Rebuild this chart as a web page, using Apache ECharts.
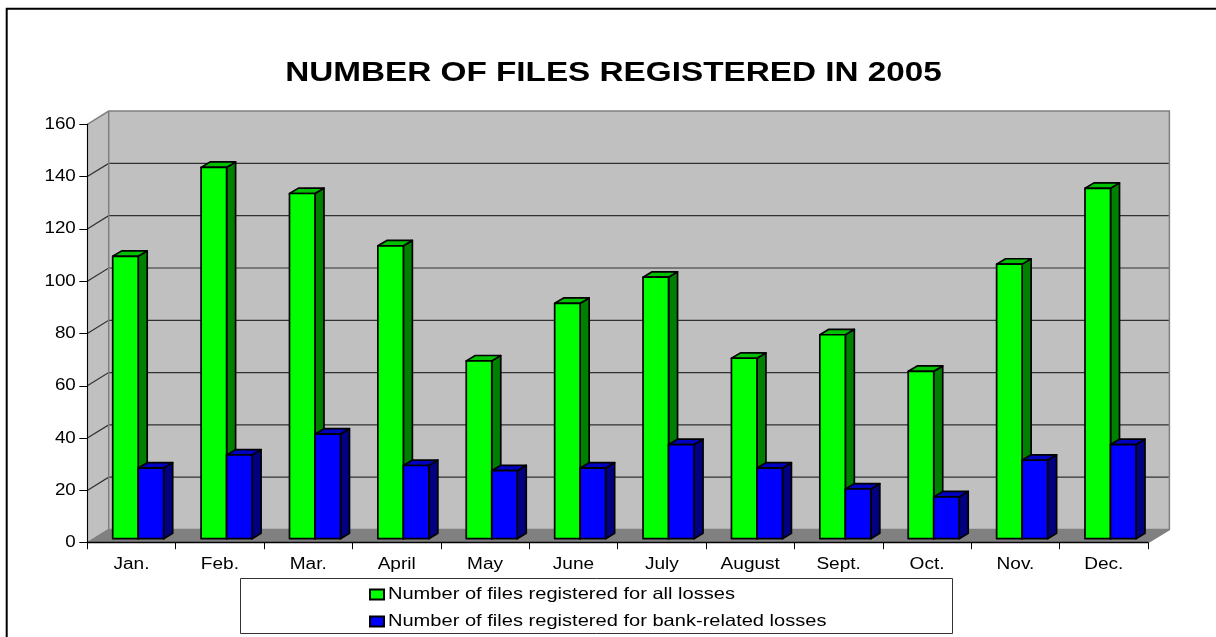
<!DOCTYPE html>
<html>
<head>
<meta charset="utf-8">
<style>html,body{margin:0;padding:0;background:#fff}#c{width:1216px;height:637px}</style>
<script src="https://cdn.jsdelivr.net/npm/echarts@6/dist/echarts.min.js"></script>
</head>
<body>
<div id="c"></div>
<script>
const categories = ['Jan.','Feb.','Mar.','April','May','June','July','August','Sept.','Oct.','Nov.','Dec.'];
const allLosses = [108,142,132,112,68,90,100,69,78,64,105,134];
const bankLosses = [27,32,40,28,26,27,36,27,19,16,30,36];
const yTicks = [20,40,60,80,100,120,140];
const titleText = 'NUMBER OF FILES REGISTERED IN 2005';
const allName = 'Number of files registered for all losses';
const bankName = 'Number of files registered for bank-related losses';

const FONT = '"Liberation Sans", Arial, sans-serif';
const WALL = [21.4, -13.2];     // depth of the chart box
const BASE = [6.6, -4];         // bars stand this far back on the floor
const BAR_DEPTH = [9, -5.4];
const BAR_W = 25.5 / 88.4;      // bar width as a share of a category band
const BAR_LEAD = 18.8 / 88.4;   // first bar's left edge, before the band centre

function backdrop(params, api) {
  const band = api.size([1, 0])[0];
  const p0 = api.coord([0, 0]);
  const p1 = api.coord([categories.length - 1, 160]);
  const l = p0[0] - band / 2, r = p1[0] + band / 2, b = p0[1], t = p1[1];
  const dx = WALL[0], dy = WALL[1];
  const kids = [];
  const grey = { fill: 'none', stroke: '#808080', lineWidth: 1.5 };
  kids.push({ type: 'polygon', shape: { points: [[l+dx,t+dy],[r+dx,t+dy],[r+dx,b+dy],[l+dx,b+dy]] }, style: { fill: '#c0c0c0' } });
  kids.push({ type: 'polygon', shape: { points: [[l,b],[l+dx,b+dy],[l+dx,t+dy],[l,t]] }, style: { fill: '#c0c0c0' } });
  kids.push({ type: 'polygon', shape: { points: [[l,b],[r,b],[r+dx,b+dy],[l+dx,b+dy]] }, style: { fill: '#808080' } });
  yTicks.forEach(function (v) {
    const y = api.coord([0, v])[1];
    kids.push({ type: 'polyline', shape: { points: [[l,y],[l+dx,y+dy],[r+dx,y+dy]] }, style: { fill: 'none', stroke: '#303030', lineWidth: 1.2 } });
  });
  kids.push({ type: 'polyline', shape: { points: [[l,t],[l+dx,t+dy],[r+dx,t+dy],[r+dx,b+dy],[r,b]] }, style: grey });
  kids.push({ type: 'polyline', shape: { points: [[l,b],[l+dx,b+dy],[r+dx,b+dy]] }, style: grey });
  kids.push({ type: 'line', shape: { x1: l+dx, y1: t+dy, x2: l+dx, y2: b+dy }, style: grey });
  return { type: 'group', children: kids };
}

function barRenderer(slot, front, top, side) {
  return function (params, api) {
    const band = api.size([1, 0])[0];
    const c = api.coord([api.value(0), api.value(1)]);
    const zero = api.coord([api.value(0), 0]);
    const w = band * BAR_W;
    const x0 = c[0] - band * BAR_LEAD + slot * w;
    const x1 = x0 + w;
    const yb = zero[1] + BASE[1];
    const yt = c[1] + BASE[1];
    const dx = BAR_DEPTH[0], dy = BAR_DEPTH[1];
    const edge = { stroke: '#000', lineWidth: 1.7, lineJoin: 'round' };
    return { type: 'group', children: [
      { type: 'polygon', shape: { points: [[x1,yb],[x1+dx,yb+dy],[x1+dx,yt+dy],[x1,yt]] }, style: Object.assign({ fill: side }, edge) },
      { type: 'polygon', shape: { points: [[x0,yt],[x0+dx,yt+dy],[x1+dx,yt+dy],[x1,yt]] }, style: Object.assign({ fill: top }, edge) },
      { type: 'rect', shape: { x: x0, y: yt, width: w, height: yb - yt }, style: Object.assign({ fill: front }, edge) }
    ] };
  };
}

const chart = echarts.init(document.getElementById('c'), null, { renderer: 'canvas' });
chart.setOption({
  animation: false,
  backgroundColor: '#fff',
  textStyle: { fontFamily: FONT },
  title: {
    text: titleText, left: 613.5, top: 60.5, padding: 0, textAlign: 'center',
    textStyle: { fontFamily: FONT, fontSize: 27, fontWeight: 'bold', color: '#000' }
  },
  grid: { left: 87.3, top: 124.3, width: 1060.7, height: 418.4, containLabel: false },
  xAxis: {
    type: 'category', data: categories, z: 5,
    axisLine: { lineStyle: { color: '#000', width: 1.3 } },
    axisTick: { show: true, length: 6.5, alignWithLabel: false, lineStyle: { color: '#000' } },
    axisLabel: { margin: 13.5, fontFamily: FONT, fontSize: 16, color: '#000', interval: 0 },
    splitLine: { show: false }
  },
  yAxis: {
    type: 'value', min: 0, max: 160, interval: 20, z: 5,
    axisLine: { show: true, lineStyle: { color: '#000', width: 1.1 } },
    axisTick: { show: true, length: 8, lineStyle: { color: '#000' } },
    axisLabel: { margin: 11.5, fontFamily: FONT, fontSize: 16.5, color: '#000', padding: [2, 0, 0, 0] },
    splitLine: { show: false }
  },
  legend: {
    orient: 'vertical', left: 369, top: 586, itemWidth: 14, itemHeight: 10, itemGap: 10, icon: 'rect',
    data: [allName, bankName], selectedMode: false,
    textStyle: { fontFamily: FONT, fontSize: 16.5, color: '#000' },
    padding: 0
  },
  graphic: [
    { type: 'polyline', silent: true, shape: { points: [[6.7,637],[6.7,8.8],[1216,8.8]] }, style: { fill: 'none', stroke: '#000', lineWidth: 2 } },
    { type: 'rect', silent: true, z: -1, shape: { x: 240.5, y: 578.5, width: 712, height: 55 }, style: { fill: '#fff', stroke: '#333', lineWidth: 1 } }
  ],
  series: [
    { type: 'custom', name: 'backdrop', silent: true, z: 1, data: [[0, 0]], renderItem: backdrop, clip: false, encode: { x: 0, y: 1 } },
    { type: 'custom', name: allName, z: 2, data: allLosses.map((v, i) => [i, v]), encode: { x: 0, y: 1 },
      itemStyle: { color: '#00ff00', borderColor: '#000', borderWidth: 1 },
      renderItem: barRenderer(0, '#00ff00', '#00c000', '#008000') },
    { type: 'custom', name: bankName, z: 3, data: bankLosses.map((v, i) => [i, v]), encode: { x: 0, y: 1 },
      itemStyle: { color: '#0000ff', borderColor: '#000', borderWidth: 1 },
      renderItem: barRenderer(1, '#0000ff', '#0000c0', '#000080') }
  ]
});

// The reference's type is horizontally stretched: widen each text about its own anchor.
const zr = chart.getZr();
zr.storage.getDisplayList(true).forEach(function (el) {
  if (el.type !== 'tspan' || !el.parent || !el.style || !el.style.text) return;
  const t = el.style.text, host = el.parent;
  const anchor = (host.style && host.style.x) || 0;
  if (t === titleText) { host.scaleX = 1.233; host.originX = anchor; }
  else if (t === allName || t === bankName) { host.scaleX = 1.217; host.originX = anchor + 5; }
  else if (categories.indexOf(t) >= 0) { host.scaleX = 1.19; host.originX = anchor; }
  else { host.scaleX = 1.14; host.originX = anchor; }
  host.markRedraw();
});
zr.refreshImmediately();
</script>
</body>
</html>
